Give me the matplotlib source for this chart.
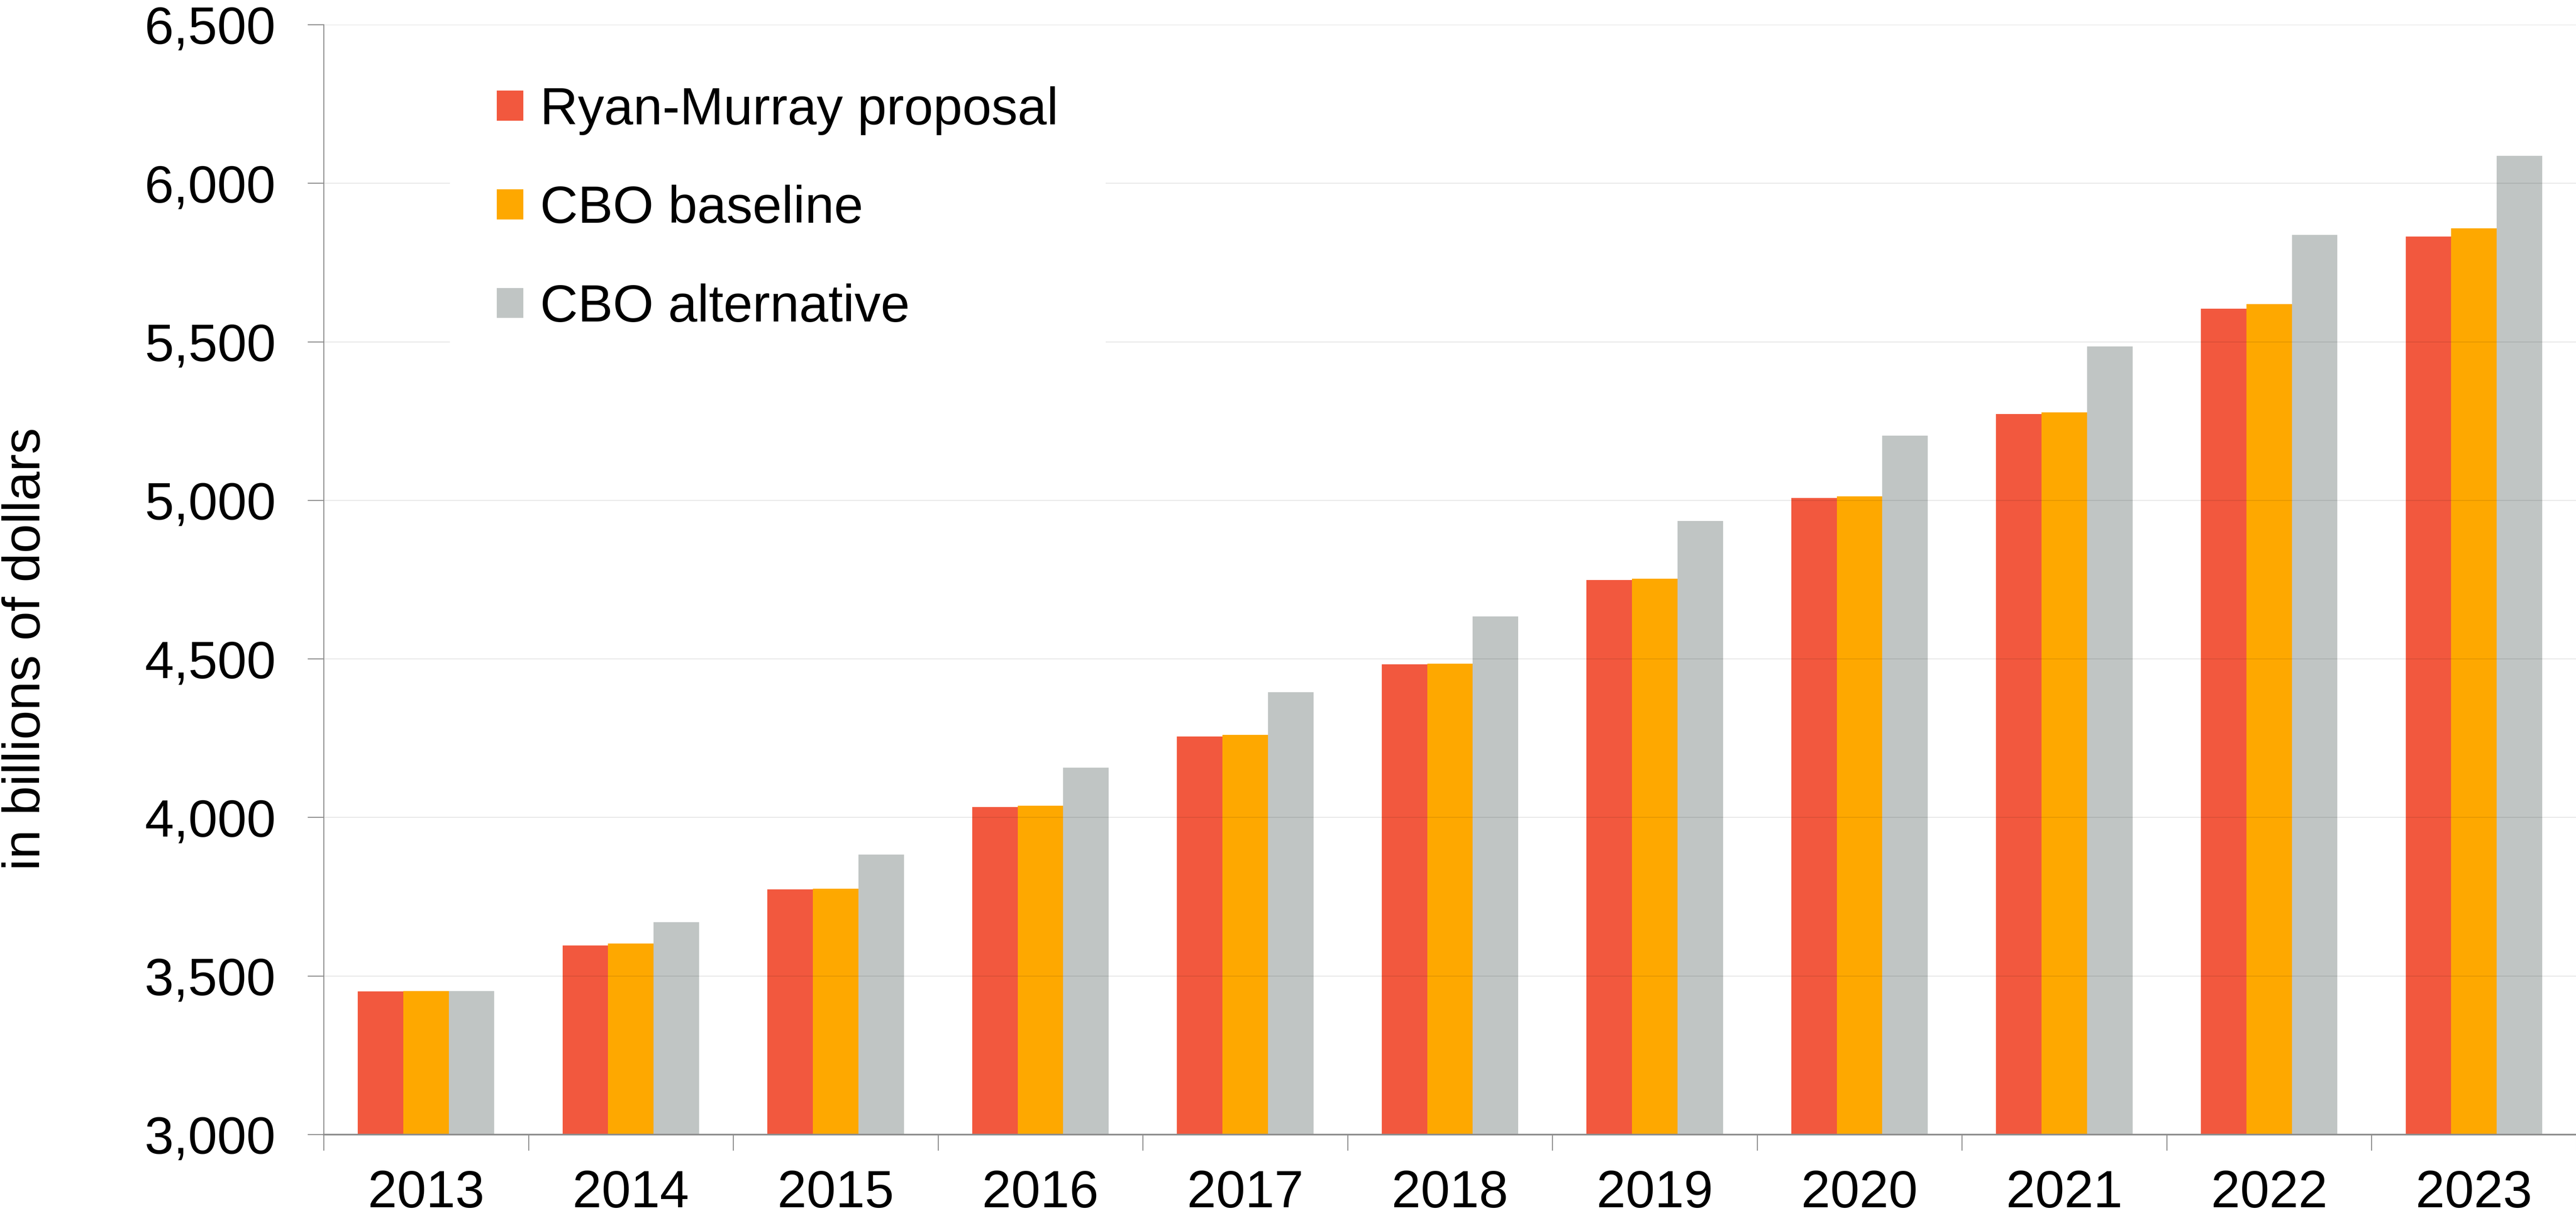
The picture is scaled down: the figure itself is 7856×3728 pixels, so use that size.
import numpy as np
import matplotlib
matplotlib.use("Agg")
import matplotlib.pyplot as plt
from matplotlib.ticker import FuncFormatter, MultipleLocator, FixedLocator

plt.rcParams['font.family'] = ['Liberation Sans', 'DejaVu Sans']

years = ["2013", "2014", "2015", "2016", "2017", "2018",
         "2019", "2020", "2021", "2022", "2023"]
ryan_murray = [3451, 3596, 3773, 4032, 4255, 4483, 4748, 5007, 5272, 5604, 5832]
cbo_baseline = [3452, 3602, 3775, 4037, 4260, 4485, 4753, 5012, 5277, 5619, 5858]
cbo_alternative = [3452, 3669, 3882, 4157, 4395, 4634, 4935, 5204, 5485, 5837, 6086]

series = [("Ryan-Murray proposal", ryan_murray, "#F2583E"),
          ("CBO baseline", cbo_baseline, "#FEA800"),
          ("CBO alternative", cbo_alternative, "#C0C5C4")]

W, H, DPI = 7857, 3728, 100
fig = plt.figure(figsize=(W / DPI, H / DPI), dpi=DPI)
ax = fig.add_axes([987 / W, 1 - 3458 / H, 1 - 987 / W, (3458 - 75) / H])

x = np.arange(len(years))
bw = 2.0 / 9
for i, (name, vals, col) in enumerate(series):
    ax.bar(x + (i - 1) * bw, vals, width=bw, color=col, label=name,
           zorder=2, linewidth=0)

ax.set_xlim(-0.5, len(years) - 0.5)
ax.set_ylim(3000, 6500)
ax.yaxis.set_major_locator(MultipleLocator(500))
ax.yaxis.set_major_formatter(FuncFormatter(lambda v, p: f"{int(v):,}"))

ax.set_xticks(x)
ax.set_xticklabels(years)
ax.xaxis.set_minor_locator(FixedLocator(np.arange(-0.5, len(years), 1.0)))

fs = 115
ax.tick_params(axis='x', which='major', length=0, pad=76, labelsize=fs)
ax.tick_params(axis='x', which='minor', length=35, width=2.2, color='#8c8c8c')
ax.tick_params(axis='y', length=35, width=2.2, color='#8c8c8c', pad=70, labelsize=fs)

ax.grid(axis='y', color='black', alpha=0.09, linewidth=2.2, zorder=3)
ax.set_axisbelow(False)

for s in ['top', 'right']:
    ax.spines[s].set_visible(False)
ax.spines['left'].set_color('#8c8c8c')
ax.spines['left'].set_linewidth(2.2)
ax.spines['bottom'].set_color('#8c8c8c')
ax.spines['bottom'].set_linewidth(3.6)
ax.spines['left'].set_zorder(4)
ax.spines['bottom'].set_zorder(4)

leg = ax.legend(loc='upper left', bbox_to_anchor=(0.056, 0.987), fontsize=fs,
                frameon=True, fancybox=False, framealpha=1, edgecolor='none',
                facecolor='white', handlelength=0.506, handleheight=0.506,
                handletextpad=0.32, labelspacing=0.95, borderpad=0.9,
                borderaxespad=0)
leg.set_zorder(5)

fig.text(80 / W, 1 - 1978 / H, "in billions of dollars", rotation=90,
         ha='center', va='center', fontsize=fs)

fig.savefig("out.png", dpi=DPI)
